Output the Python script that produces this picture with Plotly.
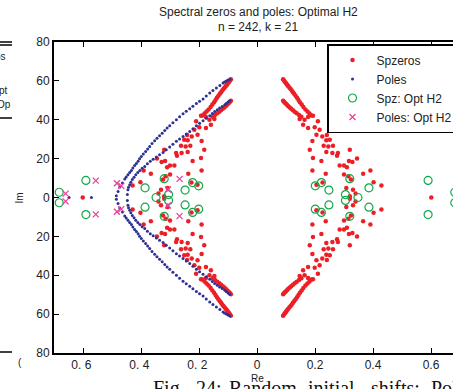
import plotly.graph_objects as go

# ---------------- data ----------------
# Spectral zeros are symmetric in Re and Im: only the first quadrant is listed
spz_dense_a_re = [0.090, 0.093, 0.096, 0.099, 0.102, 0.105, 0.108, 0.112, 0.116, 0.120, 0.124,
                  0.128, 0.133, 0.138, 0.143, 0.148, 0.154, 0.160, 0.167, 0.174, 0.181, 0.188]
spz_dense_a_im = [60.8, 60.2, 59.6, 59.0, 58.4, 57.8, 57.2, 56.5, 55.8, 55.0, 54.2,
                  53.4, 52.4, 51.3, 50.2, 49.0, 47.8, 46.6, 45.3, 44.2, 43.2, 42.2]
spz_dense_b_re = [0.090, 0.093, 0.096, 0.100, 0.104, 0.108, 0.113, 0.118, 0.124, 0.130, 0.137, 0.145, 0.153]
spz_dense_b_im = [49.8, 49.3, 48.8, 48.2, 47.6, 47.0, 46.3, 45.6, 44.9, 44.1, 43.3, 42.4, 41.5]
spz_scat_re = [0.193, 0.164, 0.147, 0.159, 0.176, 0.210, 0.199, 0.216, 0.205, 0.225, 0.241, 0.251,
               0.230, 0.246, 0.262, 0.239, 0.260, 0.276, 0.279, 0.320, 0.182, 0.193, 0.345, 0.285,
               0.300, 0.310, 0.191, 0.237, 0.366, 0.391, 0.315, 0.324, 0.205, 0.402, 0.429, 0.308,
               0.331, 0.340, 0.320, 0.601, 0.222, 0.239, 0.317, 0.329, 0.300, 0.191, 0.176, 0.226]
spz_scat_im = [42.1, 40.0, 40.4, 37.4, 35.7, 39.2, 36.2, 34.9, 32.3, 31.4, 32.1, 29.7,
               26.6, 26.3, 26.6, 29.4, 22.9, 21.5, 22.9, 24.6, 24.6, 20.3, 20.1, 16.4,
               16.5, 15.5, 13.9, 12.2, 12.2, 13.9, 10.9, 9.2, 6.6, 7.8, 6.2, 4.9,
               4.0, 2.0, 0.6, 0.0, 18.8, 23.4, 18.8, 18.3, 11.8, 29.1, 41.4, 7.7]

# Poles (upper half plane; conjugates mirrored)
pole_outer_re = [-0.094, -0.100, -0.106, -0.112, -0.117, -0.128, -0.140, -0.152, -0.163, -0.175,
                 -0.186, -0.198, -0.209, -0.221, -0.232, -0.244, -0.255, -0.267, -0.278, -0.290,
                 -0.301, -0.310, -0.318, -0.327, -0.336, -0.345, -0.353, -0.362, -0.370, -0.377,
                 -0.384, -0.392, -0.399, -0.405, -0.410, -0.416, -0.422, -0.428, -0.433, -0.439,
                 -0.445, -0.451, -0.456, -0.464, -0.473, -0.479, -0.485]
pole_outer_im = [60.9, 60.4, 59.9, 59.4, 58.9, 57.6, 56.3, 55.0, 53.8, 52.2,
                 50.7, 49.5, 48.3, 47.0, 45.7, 44.4, 43.1, 41.6, 40.0, 38.5,
                 36.9, 35.7, 34.5, 33.1, 31.8, 30.5, 29.2, 27.8, 26.3, 25.0,
                 23.7, 22.4, 21.1, 19.9, 18.6, 17.5, 16.4, 15.2, 13.9, 12.8,
                 11.7, 10.6, 9.5, 7.5, 5.4, 3.1, 0.9]
pole_inner_re = [-0.094, -0.100, -0.106, -0.111, -0.120, -0.129, -0.137, -0.146, -0.154, -0.163,
                 -0.175, -0.186, -0.198, -0.209, -0.221, -0.232, -0.244, -0.255, -0.267, -0.278,
                 -0.290, -0.301, -0.313, -0.324, -0.336, -0.347, -0.358, -0.368, -0.378, -0.387,
                 -0.396, -0.404, -0.411, -0.418, -0.424, -0.430, -0.435, -0.439, -0.443, -0.445,
                 -0.447]
pole_inner_im = [49.8, 49.1, 48.4, 47.7, 46.8, 46.0, 45.2, 44.3, 43.2, 42.1,
                 40.8, 39.5, 38.2, 36.9, 35.4, 34.0, 32.7, 31.4, 30.1, 28.9,
                 27.4, 26.0, 24.6, 23.2, 22.0, 20.8, 19.7, 18.6, 17.3, 16.0,
                 15.0, 13.9, 12.8, 11.7, 10.4, 9.2, 7.9, 6.6, 5.3, 4.0,
                 1.5]
pole_real_axis = [-0.648, -0.571]

# Optimal H2 spectral zeros (Re>0, Im>=0 listed; symmetric)
opt_spz_re = [0.201, 0.222, 0.248, 0.305, 0.320, 0.348, 0.386, 0.590, 0.682]
opt_spz_im = [6.0, 7.7, 3.8, 1.5, 9.7, 0.0, 5.0, 8.8, 2.7]
# Optimal H2 poles (upper half; conjugates mirrored)
opt_pole_re = [-0.660, -0.556, -0.483, -0.468, -0.307, -0.267]
opt_pole_im = [2.0, 8.7, 7.3, 6.0, 4.1, 9.6]

x_tick_vals = [-0.6, -0.4, -0.2, 0, 0.2, 0.4, 0.6]
x_tick_text = ["0. 6\u00a0", "0. 4\u00a0", "0. 2\u00a0", "0", "0.2", "0.4", "0.6"]
y_tick_vals = [-80, -60, -40, -20, 0, 20, 40, 60, 80]
y_tick_text = ["80", "60", "40", "20", "0", "20", "40", "60", "80"]


def four_fold(re, im):
    xs, ys = [], []
    for r, i in zip(re, im):
        for sr in (1, -1):
            for si in ((1, -1) if i != 0 else (1,)):
                xs.append(sr * r)
                ys.append(si * i)
    return xs, ys


def conjugate(re, im):
    xs, ys = [], []
    for r, i in zip(re, im):
        for si in ((1, -1) if i != 0 else (1,)):
            xs.append(r)
            ys.append(si * i)
    return xs, ys


spz_x, spz_y = four_fold(spz_dense_a_re + spz_dense_b_re + spz_scat_re,
                         spz_dense_a_im + spz_dense_b_im + spz_scat_im)
pole_x, pole_y = conjugate(pole_outer_re + pole_inner_re + pole_real_axis,
                           pole_outer_im + pole_inner_im + [0.0] * len(pole_real_axis))
ospz_x, ospz_y = four_fold(opt_spz_re, opt_spz_im)
opol_x, opol_y = conjugate(opt_pole_re, opt_pole_im)

RED = "#ec1f27"
BLUE = "#2e3192"
GREEN = "#14a84b"
MAGENTA = "#ea4199"

fig = go.Figure()
fig.add_trace(go.Scatter(x=spz_x, y=spz_y, mode="markers", name="Spzeros",
                         marker=dict(color=RED, size=4.5, line=dict(width=0))))
fig.add_trace(go.Scatter(x=pole_x, y=pole_y, mode="markers", name="Poles",
                         marker=dict(color=BLUE, size=3, line=dict(width=0))))
fig.add_trace(go.Scatter(x=ospz_x, y=ospz_y, mode="markers", name="Spz: Opt H2",
                         marker=dict(color=GREEN, size=8, symbol="circle-open",
                                     line=dict(width=1.2, color=GREEN))))
fig.add_trace(go.Scatter(x=opol_x, y=opol_y, mode="markers", name="Poles: Opt H2",
                         marker=dict(color=MAGENTA, size=6, symbol="x-thin-open",
                                     line=dict(width=1.3, color=MAGENTA))))

FONT = "Liberation Sans, Arial, Helvetica, sans-serif"
L, T, B, W, H = 54, 42, 36, 453, 389
PW, PH = W - L, H - T - B


def px(xp):
    return (xp - L) / PW


def py(yp):
    return (H - B - yp) / PH


fig.update_layout(
    width=W, height=H,
    margin=dict(l=L, r=0, t=T, b=B, pad=0, autoexpand=False),
    plot_bgcolor="white", paper_bgcolor="white",
    font=dict(family=FONT, size=12, color="#222"),
    legend=dict(x=px(327), y=py(44), xanchor="left", yanchor="top",
                bordercolor="black", borderwidth=1.5, bgcolor="white",
                font=dict(family=FONT, size=12, color="#222"),
                itemsizing="trace", itemwidth=38, tracegroupgap=0),
    xaxis=dict(range=[-0.7, -0.7 + PW / 290.0], showline=True, linecolor="black", linewidth=2,
               mirror="ticks", ticks="inside", ticklen=5, tickwidth=1, tickcolor="black",
               tickvals=x_tick_vals, ticktext=x_tick_text, showgrid=False, zeroline=False,
               tickfont=dict(size=12, color="#222"), automargin=False),
    yaxis=dict(range=[-80, 80], showline=True, linecolor="black", linewidth=2,
               mirror=False, ticks="inside", ticklen=5, tickwidth=1, tickcolor="black",
               tickvals=y_tick_vals, ticktext=y_tick_text, showgrid=False, zeroline=False,
               tickfont=dict(size=12, color="#222"), automargin=False),
)

ann = []
ann.append(dict(text="Spectral zeros and poles: Optimal H2", x=px(258), y=py(12.3),
                xref="paper", yref="paper", xanchor="center", yanchor="middle",
                showarrow=False, font=dict(size=12, color="#222")))
ann.append(dict(text="n = 242, k = 21", x=px(258), y=py(27.2),
                xref="paper", yref="paper", xanchor="center", yanchor="middle",
                showarrow=False, font=dict(size=12, color="#222")))
ann.append(dict(text="Im", x=px(18.5), y=py(198), xref="paper", yref="paper",
                xanchor="center", yanchor="middle", textangle=-90, showarrow=False,
                font=dict(size=10, color="#222")))
ann.append(dict(text="Re", x=px(257), y=py(378), xref="paper", yref="paper",
                xanchor="center", yanchor="middle", showarrow=False,
                font=dict(size=10, color="#222")))
# caption of the page (partially cut off at the bottom, as in the reference)
for word, xl in [("Fig.", 151), ("24:", 194), ("Random", 227), ("initial", 306),
                 ("shifts:", 369), ("Poles", 429)]:
    ann.append(dict(text=word, x=px(xl), y=py(375), xref="paper", yref="paper",
                    xanchor="left", yanchor="top", showarrow=False,
                    font=dict(family="Liberation Serif, Times New Roman, serif", size=20, color="#111")))
# fragments of the neighbouring figure on the left edge
for txt, xr, yc in [("os", 8, 56), ("pt", 10, 90), ("Op", 13, 104), ("(", 24, 363)]:
    ann.append(dict(text=txt, x=px(xr), y=py(yc), xref="paper", yref="paper",
                    xanchor="right", yanchor="middle", showarrow=False,
                    font=dict(size=10, color="#222")))
fig.update_layout(annotations=ann)

shapes = []
for yl in (42, 45, 118, 352):
    shapes.append(dict(type="line", xref="paper", yref="paper", x0=px(0), x1=px(12),
                       y0=py(yl), y1=py(yl), line=dict(color="black", width=1.5)))
fig.update_layout(shapes=shapes)

fig.write_html("out.html")
